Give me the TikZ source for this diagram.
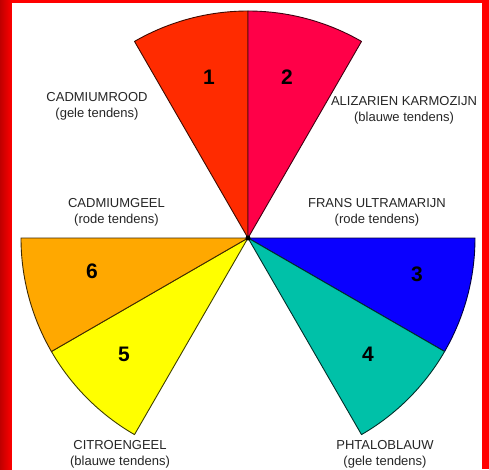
\documentclass[tikz,border=0pt]{standalone}
\usepackage{fontspec}
\setmainfont{Liberation Sans}
\definecolor{rood}{HTML}{FF2B00}
\definecolor{karmozijn}{HTML}{FF0048}
\definecolor{ultramarijn}{HTML}{0A00FF}
\definecolor{phtalo}{HTML}{00C1A8}
\definecolor{citroen}{HTML}{FFFF00}
\definecolor{geel}{HTML}{FFA800}
\definecolor{rand}{HTML}{FF0000}
\newcommand{\sector}[3]{% start angle, end angle, colour
  \filldraw[fill=#3,draw=#3!25!black,line width=0.9pt,line join=round]
    (0,0)--(#1:227) arc[start angle=#1,end angle=#2,radius=227]--cycle;%
}

\begin{document}
\begin{tikzpicture}[x=1pt,y=1pt,
  nummer/.style={font=\fontsize{21}{21}\selectfont\bfseries},
  verf/.style={align=center,inner sep=0pt,font=\fontsize{13}{16}\selectfont,text=black!85}]
  \useasboundingbox (-248,-231) rectangle (241,238);
  % frame
  \fill[rand] (-248,-231) rectangle (241,238);
  \shade[left color=rand!75!black,right color=rand] (-248,-231) rectangle (-236,238);
  \fill[white] (-236,-231) rectangle (234,235);
  % sectors
  \sector{90}{120}{rood}
  \sector{60}{90}{karmozijn}
  \sector{-30}{0}{ultramarijn}
  \sector{-60}{-30}{phtalo}
  \sector{-150}{-120}{citroen}
  \sector{180}{210}{geel}
  \fill[black] (0,0) circle(2.5pt);
  % numbers
  \node[nummer] (n1) at (-39,161) {1};
  \node[nummer] (n2) at (39,161) {2};
  \node[nummer] (n3) at (169,-36) {3};
  \node[nummer] (n4) at (120,-116) {4};
  \node[nummer] (n5) at (-124,-116) {5};
  \node[nummer] (n6) at (-156,-33) {6};
  % labels
  \node[verf] (rood) at (-151,131.5) {CADMIUMROOD\\(gele tendens)};
  \node[verf] (karmozijn) at (156,127.5) {ALIZARIEN KARMOZIJN\\(blauwe tendens)};
  \node[verf] (geel) at (-131.5,25.5) {CADMIUMGEEL\\(rode tendens)};
  \node[verf] (ultramarijn) at (129,25.5) {FRANS ULTRAMARIJN\\(rode tendens)};
  \node[verf] (citroen) at (-128,-216.5) {CITROENGEEL\\(blauwe tendens)};
  \node[verf] (phtalo) at (137,-216.5) {PHTALOBLAUW\\(gele tendens)};
\end{tikzpicture}
\end{document}
